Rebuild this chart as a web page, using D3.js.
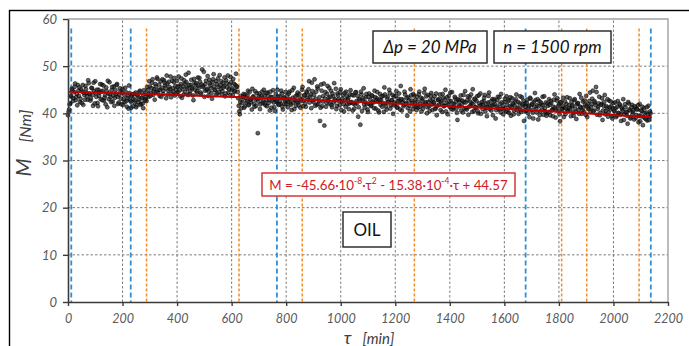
<!DOCTYPE html>
<html><head><meta charset="utf-8">
<script src="https://cdn.jsdelivr.net/npm/d3@7"></script>
<style>
body{margin:0;background:#fff;}
svg{display:block;}
</style></head>
<body><svg id="c" width="689" height="346"></svg>
<script>
// ---- data ----
// torque samples M [Nm]; series A at tau = 0,4,8,...  series B at tau = 2,6,10,...
const torqueA = [
39.6,40.8,42.1,43.5,44.9,43.2,45.6,42.8,44.1,46.0,43.7,42.4,45.1,44.6,41.8,43.9,45.8,44.3,42.9,46.4,
44.0,43.1,45.3,41.6,44.7,46.8,43.5,42.2,45.0,44.4,43.0,46.1,44.8,42.7,43.8,45.5,41.3,44.2,46.6,43.4,
44.9,42.5,45.7,43.3,44.1,46.2,42.0,43.9,44.6,41.9,45.2,43.0,42.4,44.5,41.4,43.6,45.9,42.8,41.2,44.0,
43.1,42.3,44.4,41.7,43.6,42.9,44.8,42.0,43.4,41.1,44.2,43.0,42.6,44.9,43.5,45.7,44.3,46.5,43.9,45.1,
46.2,44.6,47.3,45.0,43.7,46.8,45.4,44.1,47.0,45.9,43.2,46.3,44.8,45.6,47.8,44.2,45.3,46.6,43.8,45.0,
46.9,44.5,45.8,43.6,47.4,45.1,44.0,46.3,48.2,45.5,43.9,46.0,44.7,47.1,45.2,42.8,46.5,45.9,44.3,47.6,
45.4,46.7,44.1,49.3,45.8,43.5,46.2,45.0,47.9,44.6,46.4,45.3,43.1,47.2,45.7,44.9,46.8,44.2,45.6,48.1,
45.2,44.0,46.5,45.8,43.6,47.0,45.5,44.4,46.1,47.7,45.0,43.9,46.3,44.8,48.4,45.6,43.2,40.4,42.4,41.1,
43.0,44.1,41.5,43.3,42.6,44.8,41.9,43.0,42.4,45.2,43.6,41.4,42.9,44.3,35.8,43.7,40.9,43.2,44.6,42.5,
43.8,41.7,42.9,44.4,42.2,40.6,43.5,42.7,44.9,41.3,43.1,42.4,45.0,41.8,43.6,42.0,44.2,40.8,43.4,42.6,
41.9,43.7,42.5,44.6,42.1,40.7,43.3,45.4,42.8,41.6,43.9,42.3,44.1,41.2,43.0,45.6,42.7,43.8,41.4,44.3,
42.9,46.8,43.5,41.1,44.7,42.4,47.2,43.1,41.8,45.3,42.6,38.4,46.1,41.5,43.7,37.4,44.5,42.2,45.8,43.3,
42.0,44.8,41.3,43.6,46.4,42.7,40.9,44.2,43.0,41.7,45.1,42.5,43.9,40.4,42.8,44.6,41.9,43.3,42.1,44.9,
42.4,40.6,43.8,41.9,44.5,42.2,39.3,43.1,37.6,44.0,42.7,45.3,41.2,43.4,42.0,40.3,44.2,42.9,41.6,43.7,
42.3,44.8,41.0,43.2,42.6,40.2,44.1,42.9,41.4,43.7,45.5,42.1,40.8,43.5,42.4,44.3,41.7,42.8,39.9,43.6,
42.0,44.7,41.3,43.1,42.5,45.8,40.6,42.9,41.8,44.0,42.2,39.5,43.4,41.6,45.1,42.7,40.9,43.8,42.1,41.4,
43.5,41.2,44.6,42.0,40.4,43.1,41.7,45.2,42.4,40.0,43.9,41.5,42.8,44.3,40.7,42.2,43.6,41.1,39.6,42.9,
41.8,44.0,42.5,40.3,43.3,41.6,45.0,42.1,39.8,43.7,41.3,42.6,44.5,40.8,42.0,43.2,41.0,38.6,42.7,41.5,
43.8,41.9,40.2,42.4,44.7,41.1,42.8,39.7,43.4,41.6,42.2,45.1,40.5,42.9,41.3,43.6,40.0,42.1,44.2,41.7,
40.9,42.6,43.9,41.2,39.4,42.3,44.4,41.5,40.6,43.0,41.8,42.7,38.9,41.4,43.5,40.8,42.0,44.1,41.0,39.8,
42.4,41.1,43.6,40.3,42.8,41.5,39.5,43.2,41.9,40.6,42.5,44.0,41.2,39.9,42.1,40.7,43.4,41.6,38.4,42.0,
40.5,42.9,41.3,39.2,43.1,41.8,40.1,42.4,44.3,40.9,41.7,38.7,42.6,40.4,41.9,43.5,39.7,41.1,42.3,40.0,
41.6,43.0,39.6,42.2,40.8,41.4,44.0,39.1,42.7,40.5,41.9,38.3,42.4,40.9,43.3,41.2,39.8,42.0,40.6,41.7,
43.2,39.4,41.5,40.2,42.8,41.0,38.8,42.1,40.7,44.1,41.3,39.9,42.5,40.3,41.8,43.7,39.2,41.1,42.6,40.4,
41.9,44.8,40.6,42.3,45.6,39.7,41.4,43.5,40.1,42.0,38.6,41.6,43.9,40.5,41.2,39.3,42.7,40.8,41.5,38.9,
42.2,40.4,41.1,39.5,42.6,40.0,41.7,38.4,40.9,43.0,39.8,41.3,40.2,37.8,42.1,40.6,39.1,41.8,40.3,38.7,
41.2,39.6,40.8,38.1,42.0,39.4,40.5,37.5,41.1,39.0,40.2,38.5,41.6,39.3,40.0
];
const torqueB = [
40.3,41.9,43.8,45.2,42.6,44.5,46.3,43.4,41.7,44.8,45.5,43.1,42.2,46.0,44.4,42.9,45.1,43.6,47.0,44.2,
42.7,45.4,43.9,46.5,42.1,44.3,45.0,41.5,43.7,46.2,44.6,42.8,45.9,43.3,41.9,44.7,46.9,43.0,44.1,42.4,
45.6,43.8,41.6,44.9,46.0,43.5,42.3,45.3,43.1,44.4,41.8,43.9,45.4,42.6,43.2,41.0,44.3,42.5,43.7,41.5,
44.1,42.8,41.3,43.9,42.4,44.6,41.8,43.2,42.1,44.9,42.7,43.5,45.6,44.1,46.8,43.7,45.3,47.2,44.6,42.9,
45.7,47.6,44.3,46.1,45.0,43.5,47.2,44.8,46.5,45.3,48.0,44.0,46.7,45.1,43.4,46.9,44.6,47.5,45.8,44.2,
45.6,47.8,44.9,46.2,43.3,45.7,47.0,44.5,46.6,45.2,48.6,44.1,46.0,45.5,43.8,47.3,45.0,46.4,44.7,45.9,
47.5,44.4,46.1,45.6,48.8,44.8,46.9,45.2,43.7,47.1,45.9,44.3,46.6,48.3,45.0,43.9,46.2,47.4,44.5,46.0,
46.8,44.7,45.5,47.6,44.2,46.4,48.0,45.1,43.8,46.6,45.3,47.3,44.6,46.0,45.7,44.5,41.6,39.8,43.7,42.2,
43.5,41.2,44.0,42.3,43.8,41.7,44.5,42.9,40.8,43.4,42.0,44.7,41.6,43.1,42.5,44.2,41.9,43.6,42.2,45.0,
42.1,44.3,41.5,43.7,42.8,44.6,41.2,43.4,42.3,40.5,44.1,42.7,43.5,41.9,42.6,44.8,41.4,43.2,42.0,44.5,
42.8,41.3,44.2,43.0,41.8,44.9,42.3,40.9,43.6,42.5,44.4,41.7,43.2,42.6,45.0,41.5,43.8,42.1,44.6,43.3,
45.1,42.3,44.0,46.5,42.8,43.9,41.6,44.6,45.7,42.0,43.4,41.2,44.8,42.5,46.3,43.1,41.4,44.1,42.7,45.4,
43.5,41.8,44.2,42.3,43.0,45.2,41.6,43.8,42.6,44.5,40.7,43.1,42.0,44.3,41.4,43.6,42.8,40.9,44.0,42.3,
43.9,42.1,41.0,44.4,42.6,43.7,41.3,42.8,44.6,40.5,43.2,41.9,42.4,44.1,40.8,43.5,42.0,41.6,43.8,42.5,
41.1,43.4,42.7,44.5,40.6,42.9,41.8,43.6,42.2,40.3,44.0,41.5,43.1,42.4,45.0,41.0,42.8,43.9,41.7,42.3,
43.7,41.2,42.6,44.2,40.8,43.0,42.3,41.5,44.6,42.0,43.3,41.1,42.7,40.4,43.8,42.2,44.1,41.6,42.9,40.7,
42.5,44.0,41.4,43.3,42.7,41.0,44.4,42.1,43.6,41.3,42.4,40.5,43.7,41.9,43.0,42.3,40.9,44.2,41.6,42.8,
43.1,40.7,42.2,44.1,41.5,42.9,40.4,43.4,41.8,42.6,44.4,40.9,42.0,41.3,43.5,42.4,40.1,43.0,41.7,42.8,
40.6,42.7,43.9,41.0,42.3,40.8,43.6,41.4,42.5,44.0,40.3,41.9,43.1,41.2,42.6,40.5,43.8,41.6,39.9,42.4,
41.7,43.3,40.4,42.0,41.3,43.7,40.9,42.5,41.6,39.6,43.0,41.9,40.7,42.8,41.1,43.4,40.2,42.3,41.5,40.8,
43.1,40.5,41.8,42.6,40.1,43.4,41.3,42.2,39.8,41.6,43.0,40.7,42.4,41.1,43.6,40.3,41.9,42.7,40.6,41.4,
42.2,40.0,41.6,43.3,40.7,42.0,38.9,41.4,42.8,40.2,43.0,41.5,39.6,42.3,40.8,41.7,43.6,40.4,39.5,42.1,
40.3,41.8,42.6,40.6,39.4,42.9,41.2,40.7,43.2,41.5,39.8,42.3,40.9,41.6,39.2,42.5,41.0,43.4,40.5,41.1,
40.8,42.4,41.7,39.5,43.0,40.3,41.9,42.2,39.9,41.4,43.3,40.6,41.2,42.7,39.7,41.6,42.0,40.9,44.4,41.3,
43.1,40.4,42.6,41.7,44.5,40.9,42.1,39.6,41.8,43.2,40.6,42.4,39.8,41.5,43.0,40.2,41.3,42.5,39.4,41.0,
40.6,42.3,39.2,41.4,40.1,42.0,39.7,41.2,40.5,38.6,41.9,40.3,39.5,42.4,40.8,38.9,41.3,39.8,40.7,41.5,
39.0,40.9,41.7,39.5,38.3,40.6,41.4,39.2,40.0,38.8,41.3,39.7,38.6,40.4
];
// fitted trend (values of the shown regression) at given times
const trendTau = [0,250,500,750,1000,1250,1500,1750,2000,2137];
const trendM   = [44.57,44.16,43.69,43.16,42.58,41.93,41.24,40.48,39.67,39.20];
const blueLines   = [12,230,766,1678,2137];
const orangeLines = [288,627,859,1270,1810,1902,2094];
const xTicks = [0,200,400,600,800,1000,1200,1400,1600,1800,2000,2200];
const yTicks = [0,10,20,30,40,50,60];

// ---- drawing ----
const svg = d3.select("#c");
const x = d3.scaleLinear().domain([0,2200]).range([68,668]);
const y = d3.scaleLinear().domain([0,60]).range([302,19]);
const FONT = "Lato, 'Open Sans', sans-serif";

// outer frame
svg.append("rect").attr("x",9.5).attr("y",10.5).attr("width",720).attr("height",400)
  .attr("fill","none").attr("stroke","#000").attr("stroke-width",1.4);

// grid
svg.append("g").selectAll("line").data(yTicks.filter(d=>d>0&&d<60)).join("line")
  .attr("x1",x(0)).attr("x2",x(2200)).attr("y1",d=>y(d)).attr("y2",d=>y(d))
  .attr("stroke","#6e6e6e").attr("stroke-width",0.9).attr("stroke-dasharray","2.5,2");
svg.append("g").selectAll("line").data(xTicks.filter(d=>d>0&&d<2200)).join("line")
  .attr("y1",y(0)).attr("y2",y(60)).attr("x1",d=>x(d)).attr("x2",d=>x(d))
  .attr("stroke","#6e6e6e").attr("stroke-width",0.9).attr("stroke-dasharray","2.5,2");

// top and right frame of plot
svg.append("path").attr("d",`M${x(0)},${y(60)}H${x(2200)}V${y(0)}`)
  .attr("fill","none").attr("stroke","#a0a0a0").attr("stroke-width",1.4);

// vertical markers
svg.append("g").selectAll("line").data(orangeLines).join("line")
  .attr("x1",d=>x(d)).attr("x2",d=>x(d)).attr("y1",y(58)).attr("y2",y(0))
  .attr("stroke","#f28c28").attr("stroke-width",1.5).attr("stroke-dasharray","3,2");
svg.append("g").selectAll("line").data(blueLines).join("line")
  .attr("x1",d=>x(d)).attr("x2",d=>x(d)).attr("y1",y(58)).attr("y2",y(0))
  .attr("stroke","#2f8fd8").attr("stroke-width",1.8).attr("stroke-dasharray","5,3");

// scatter
const pts = torqueA.map((m,i)=>({t:i*4,m})).concat(torqueB.map((m,i)=>({t:2+i*4,m})));
svg.append("g").selectAll("circle").data(pts).join("circle")
  .attr("cx",d=>x(d.t)).attr("cy",d=>y(d.m)).attr("r",2)
  .attr("fill","#222").attr("fill-opacity",0.7)
  .attr("stroke","#000").attr("stroke-opacity",0.75).attr("stroke-width",0.7);

// trend line
svg.append("path").datum(trendTau.map((t,i)=>[t,trendM[i]]))
  .attr("d",d3.line().x(d=>x(d[0])).y(d=>y(d[1])).curve(d3.curveMonotoneX))
  .attr("fill","none").attr("stroke","#c00000").attr("stroke-width",2);

// axes
const ax = svg.append("g").attr("transform",`translate(0,${y(0)})`)
  .call(d3.axisBottom(x).tickValues(xTicks).tickFormat(d3.format("d")).tickSize(4).tickPadding(6).tickSizeOuter(0));
const ay = svg.append("g").attr("transform",`translate(${x(0)},0)`)
  .call(d3.axisLeft(y).tickValues(yTicks).tickFormat(d3.format("d")).tickSize(5).tickPadding(6).tickSizeOuter(0));
[ax,ay].forEach(a=>{
  a.select(".domain").attr("stroke","#3a3a3a").attr("stroke-width",1.6);
  a.selectAll(".tick line").attr("stroke","#3a3a3a").attr("stroke-width",1.4);
  a.selectAll(".tick text").attr("fill","#595959").attr("font-size",13)
   .attr("font-style","italic").attr("font-family",FONT);
});
ax.selectAll(".tick text").attr("font-size",12.5).attr("dy","0.85em");

// axis titles
const yt = svg.append("text").attr("transform","translate(31,143) rotate(-90)")
  .attr("text-anchor","middle").attr("font-family",FONT).attr("font-style","italic").attr("fill","#404040");
yt.append("tspan").attr("font-size",21).text("M");
yt.append("tspan").attr("font-size",16).attr("dx",16).text("[Nm]");
const xt = svg.append("text").attr("x",369).attr("y",343.5)
  .attr("text-anchor","middle").attr("font-family",FONT).attr("font-style","italic").attr("fill","#404040");
xt.append("tspan").attr("font-size",18).text("τ");
xt.append("tspan").attr("font-size",15).attr("dx",11).text("[min]");

// info boxes
function box(x0,y0,w,h,stroke){
  svg.append("rect").attr("x",x0).attr("y",y0).attr("width",w).attr("height",h)
    .attr("fill","#fff").attr("stroke",stroke).attr("stroke-width",1.4);
}
box(373,31,114,32,"#222");
box(494,31,117,32,"#222");
svg.append("text").attr("x",430).attr("y",53).attr("text-anchor","middle")
  .attr("font-family",FONT).attr("font-style","italic").attr("font-size",17).attr("fill","#111")
  .text("Δp = 20 MPa");
svg.append("text").attr("x",552.5).attr("y",53).attr("text-anchor","middle")
  .attr("font-family",FONT).attr("font-style","italic").attr("font-size",17).attr("fill","#111")
  .text("n = 1500 rpm");

box(262,173,253,23,"#d0282e");
const eq = svg.append("text").attr("x",388.5).attr("y",189.5).attr("text-anchor","middle")
  .attr("font-family",FONT).attr("font-size",13.3).attr("fill","#cc2027");
eq.append("tspan").text("M = -45.66·10");
eq.append("tspan").attr("font-size",8.5).attr("dy",-5.5).text("-8");
eq.append("tspan").attr("dy",5.5).text("·τ");
eq.append("tspan").attr("font-size",8.5).attr("dy",-5.5).text("2");
eq.append("tspan").attr("dy",5.5).text(" - 15.38·10");
eq.append("tspan").attr("font-size",8.5).attr("dy",-5.5).text("-4");
eq.append("tspan").attr("dy",5.5).text("·τ + 44.57");

box(343,212,48,35,"#222");
svg.append("text").attr("x",367).attr("y",236).attr("text-anchor","middle")
  .attr("font-family",FONT).attr("font-size",17).attr("fill","#111").text("OIL");
</script></body></html>
